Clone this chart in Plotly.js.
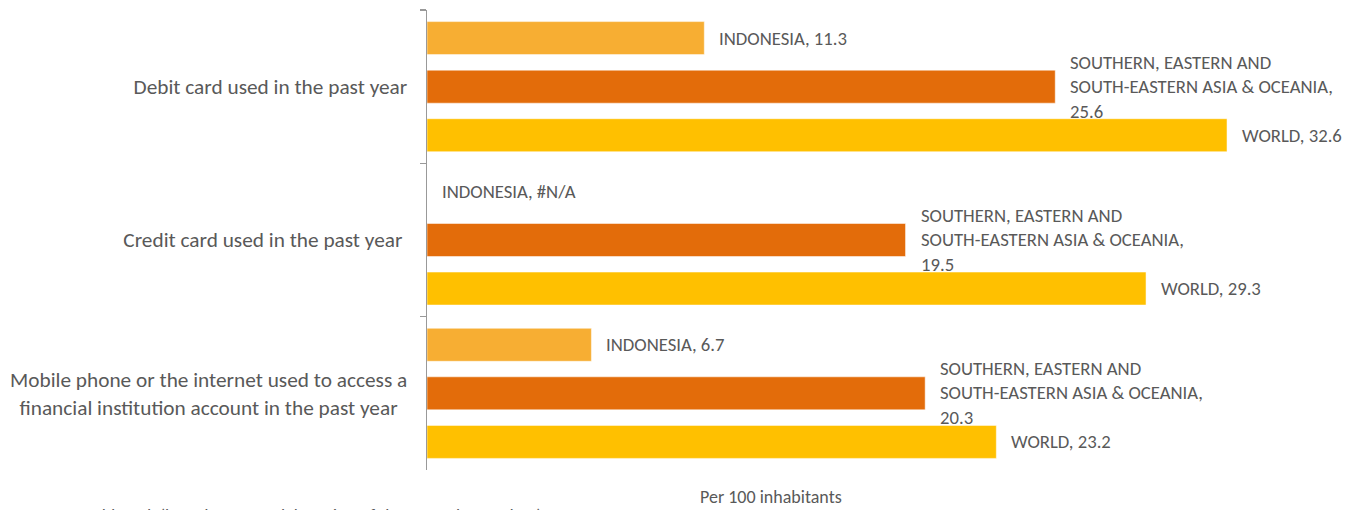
<!DOCTYPE html>
<html>
<head>
<meta charset="utf-8">
<script src="https://cdn.plot.ly/plotly-3.0.1.min.js"></script>
<style>html,body{margin:0;padding:0;background:#fff;}#chart{width:1353px;height:510px;}</style>
</head>
<body>
<div id="chart"></div>
<script>
// Data
var categories = [
  "Debit card used in the past year",
  "Credit card used in the past year\u00A0",
  "Mobile phone or the internet used to access a<br>financial institution account in the past year\u00A0\u00A0"
];
var seriesNames = ["INDONESIA", "SOUTHERN, EASTERN AND<br>SOUTH-EASTERN ASIA & OCEANIA,", "WORLD"];
var indonesia = [11.3, null, 6.7];
var region = [25.6, 19.5, 20.3];
var world = [32.6, 29.3, 23.2];
var seriesValues = [indonesia, region, world];
var seriesColors = ["#F7AE33", "#E36C0A", "#FFC000"];
var xTitle = "Per 100 inhabitants";
var sourceNote = "Source: World Bank (based on UPU elaboration of the Central Note data)";

var FONT = "Carlito, Calibri, Lato, 'Noto Sans', sans-serif";
var TXT = "#595959";
var bargap = 0.05;
var slot = (1 - bargap) / 3;

var traces = seriesValues.map(function (vals, i) {
  return {
    type: "bar",
    orientation: "h",
    name: seriesNames[i],
    x: vals,
    y: categories,
    marker: {color: seriesColors[i], line: {color: "rgba(255,255,255,0.5)", width: 1}},
    hoverinfo: "x+name"
  };
});

var annotations = [];
seriesValues.forEach(function (vals, i) {
  vals.forEach(function (v, j) {
    var label;
    if (i === 1) label = seriesNames[i] + "<br>" + v.toFixed(1);
    else label = seriesNames[i] + ", " + (v === null ? "#N/A" : v.toFixed(1));
    annotations.push({
      x: v === null ? 0 : v,
      y: j + (i - 1) * slot,
      xref: "x", yref: "y",
      text: label,
      showarrow: false,
      xanchor: "left", yanchor: "middle", align: "left",
      xshift: 13,
      font: {family: FONT, size: 18.7, color: TXT}
    });
  });
});

var W = 1353, H = 510, L = 427, R = 18, T = 10, B = 40;
annotations.push({
  x: (771 - L) / (W - L - R), y: (H - B - 497) / (H - T - B),
  xref: "paper", yref: "paper", text: xTitle, showarrow: false,
  font: {family: FONT, size: 18, color: TXT}, xanchor: "center", yanchor: "middle"
});
annotations.push({
  text: sourceNote, showarrow: false, xref: "paper", yref: "paper",
  x: (10 - L) / (W - L - R), y: (H - B - 503) / (H - T - B),
  xanchor: "left", yanchor: "top",
  font: {family: FONT, size: 18, color: TXT}
});

var layout = {
  width: W, height: H,
  margin: {l: L, r: R, t: T, b: B, pad: 0},
  paper_bgcolor: "#fff", plot_bgcolor: "#fff",
  barmode: "group", bargap: bargap, bargroupgap: 0.32,
  showlegend: false,
  xaxis: {range: [0, 37], visible: false, fixedrange: true},
  yaxis: {
    type: "category", autorange: "reversed",
    showline: true, linecolor: "#999999", linewidth: 1.5,
    ticks: "outside", tickson: "boundaries", ticklen: 6, tickcolor: "#999999", tickwidth: 1.5,
    showgrid: false, zeroline: false,
    tickfont: {family: FONT, size: 21.3, color: TXT},
    ticklabelstandoff: 14,
    fixedrange: true
  },
  annotations: annotations,
  font: {family: FONT, color: TXT}
};

Plotly.newPlot("chart", traces, layout, {displayModeBar: false, staticPlot: true});
</script>
</body>
</html>
